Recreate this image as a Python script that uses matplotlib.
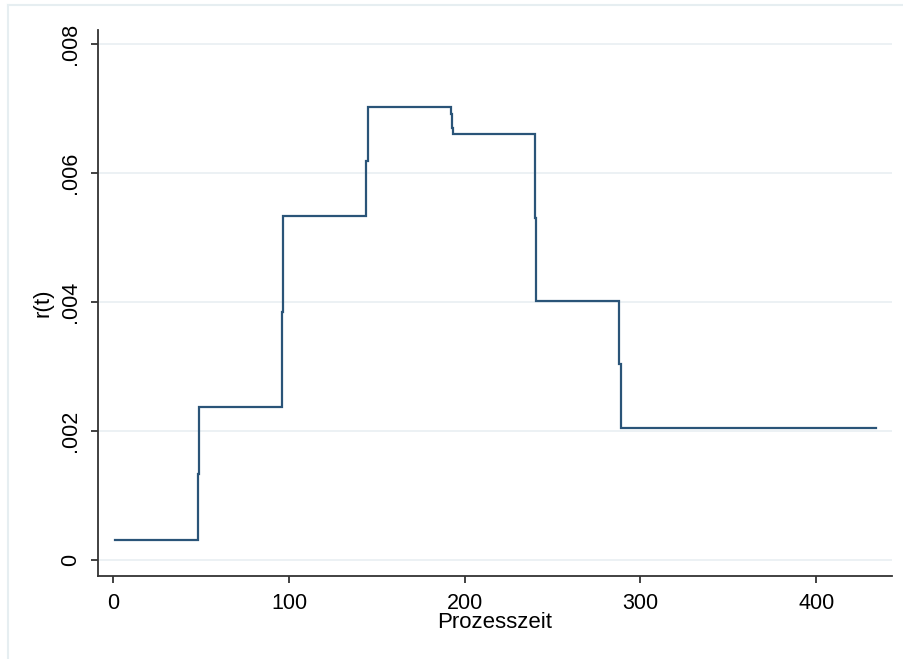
import matplotlib
matplotlib.use("Agg")
import matplotlib.pyplot as plt
from matplotlib.lines import Line2D

plt.rcParams['font.family'] = ['Liberation Sans', 'DejaVu Sans']

# Stufen der Rate r(t)
zeit = [1, 48, 48, 48.8, 48.8, 96, 96, 96.8, 96.8, 144, 144, 144.8, 144.8,
        192, 192, 192.6, 192.6, 193.5, 193.5, 240, 240, 240.8, 240.8,
        288, 288, 288.8, 288.8, 434]
rate = [0.00031, 0.00031, 0.00134, 0.00134, 0.00238, 0.00238, 0.00385, 0.00385,
        0.00533, 0.00533, 0.00619, 0.00619, 0.00702, 0.00702, 0.00692, 0.00692,
        0.00670, 0.00670, 0.00661, 0.00661, 0.00530, 0.00530, 0.00402, 0.00402,
        0.00304, 0.00304, 0.00204, 0.00204]

xticks = [0, 100, 200, 300, 400]
yticks = [0, 0.002, 0.004, 0.006, 0.008]
ylabels = ['0', '.002', '.004', '.006', '.008']

fig = plt.figure(figsize=(9.04, 6.59), dpi=100)
ax = fig.add_axes([0.1084, 0.126, 0.8780, 0.8285])

ax.plot(zeit, rate, color='#2a5478', lw=1.6, solid_joinstyle='miter')

ax.set_xlim(-8.7, 443)
ax.set_ylim(-0.000248, 0.00822)
ax.set_xticks(xticks)
ax.set_yticks(yticks)
ax.set_yticklabels(ylabels, rotation=90, va='center')
ax.grid(axis='y', color='#e9eff2', lw=1.2)
ax.set_axisbelow(True)

for s in ['top', 'right']:
    ax.spines[s].set_visible(False)
for s in ['left', 'bottom']:
    ax.spines[s].set_color('#333333')
    ax.spines[s].set_linewidth(1.3)
ax.tick_params(length=5, width=1.3, color='#333333', labelsize=15.5, pad=7)

ax.set_xlabel('Prozesszeit', fontsize=16, labelpad=-1)
ax.set_ylabel('r(t)', fontsize=16, labelpad=5)

# heller Rahmen um den Grafikbereich
fig.add_artist(Line2D([8 / 904, 8 / 904], [0, 1 - 5 / 659], color='#e6eef1', lw=1.5,
                      transform=fig.transFigure))
fig.add_artist(Line2D([8 / 904, 1], [1 - 5 / 659, 1 - 5 / 659], color='#e6eef1', lw=1.5,
                      transform=fig.transFigure))

fig.savefig('out.png', dpi=100)
